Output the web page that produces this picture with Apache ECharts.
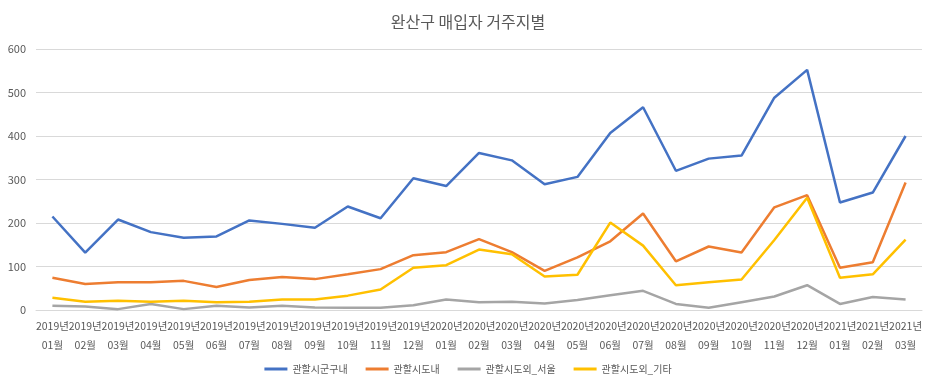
<!DOCTYPE html>
<html>
<head>
<meta charset="utf-8">
<script src="https://cdn.jsdelivr.net/npm/echarts@6/dist/echarts.min.js"></script>
<style>
html,body{margin:0;padding:0;background:#fff;}
#c{width:936px;height:387px;}
</style>
</head>
<body>
<div id="c"></div>
<script>
const categories = [
  "2019년\n01월","2019년\n02월","2019년\n03월","2019년\n04월","2019년\n05월","2019년\n06월",
  "2019년\n07월","2019년\n08월","2019년\n09월","2019년\n10월","2019년\n11월","2019년\n12월",
  "2020년\n01월","2020년\n02월","2020년\n03월","2020년\n04월","2020년\n05월","2020년\n06월",
  "2020년\n07월","2020년\n08월","2020년\n09월","2020년\n10월","2020년\n11월","2020년\n12월",
  "2021년\n01월","2021년\n02월","2021년\n03월"
];
const seriesNames = ["관할시군구내","관할시도내","관할시도외_서울","관할시도외_기타"];
const withinSigungu = [215,132,208,179,166,169,206,198,189,238,211,303,285,361,344,289,306,407,466,320,348,355,488,552,247,270,400];
const withinSido = [74,60,64,64,67,53,69,76,71,82,94,126,133,163,133,90,121,158,222,112,146,132,236,264,97,110,293];
const outsideSeoul = [10,8,2,14,2,10,6,10,6,5,5,11,24,18,19,15,23,34,44,14,5,18,31,57,14,30,24];
const outsideOther = [28,19,21,19,21,18,19,24,24,33,47,97,103,139,128,77,81,201,148,57,64,70,161,258,74,82,162];
const yTicks = [0,100,200,300,400,500,600];
const colors = ["#4472C4","#ED7D31","#A5A5A5","#FFC000"];
const allData = [withinSigungu, withinSido, outsideSeoul, outsideOther];

const chart = echarts.init(document.getElementById('c'), null, {renderer:'canvas'});
const font = '"Noto Sans CJK KR", "Noto Sans", sans-serif';
chart.setOption({
  animation:false,
  textStyle:{fontFamily:font},
  title:{
    text:"완산구 매입자 거주지별",
    left:'center', top:9,
    textStyle:{fontSize:16, fontWeight:'normal', color:'#595959', fontFamily:font}
  },
  legend:{
    bottom:8, left:'center',
    icon:'rect', itemWidth:23, itemHeight:3, itemGap:18,
    textStyle:{fontSize:10, color:'#595959', fontFamily:font},
    data:seriesNames
  },
  grid:{left:36, right:14, top:49, bottom:77, containLabel:false},
  xAxis:{
    type:'category', data:categories, boundaryGap:true,
    axisLine:{show:true, lineStyle:{color:'#D9D9D9'}},
    axisTick:{show:false},
    axisLabel:{interval:0, fontSize:10.5, color:'#595959', lineHeight:19, margin:7, fontFamily:font}
  },
  yAxis:{
    type:'value', min:yTicks[0], max:yTicks[yTicks.length-1], interval:100,
    axisLine:{show:false}, axisTick:{show:false},
    axisLabel:{fontSize:11, color:'#595959', margin:10, fontFamily:font},
    splitLine:{lineStyle:{color:'#D9D9D9'}}
  },
  series: seriesNames.map((n,i)=>({
    name:n, type:'line', data:allData[i], showSymbol:false, symbol:'none',
    lineStyle:{width:2.5, color:colors[i]}, itemStyle:{color:colors[i]}
  }))
});
</script>
</body>
</html>
